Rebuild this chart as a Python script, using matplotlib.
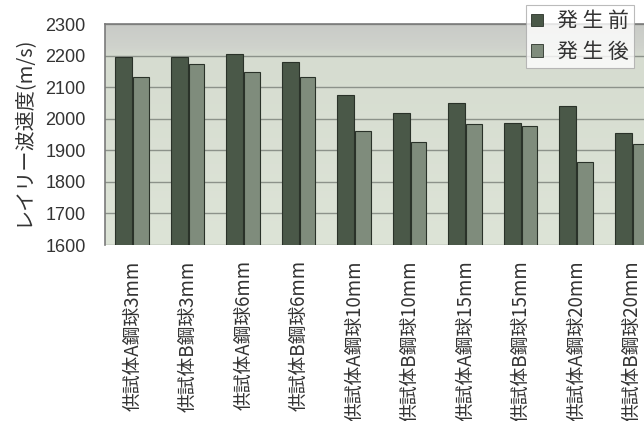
import numpy as np
import matplotlib
matplotlib.use("Agg")
import matplotlib.pyplot as plt
from matplotlib.patches import Patch
from matplotlib.colors import LinearSegmentedColormap

plt.rcParams["font.family"] = ["Noto Sans CJK JP", "DejaVu Sans"]

# =====================
# データ
# =====================
categories = [
    "供試体A鋼球3mm", "供試体B鋼球3mm", "供試体A鋼球6mm", "供試体B鋼球6mm",
    "供試体A鋼球10mm", "供試体B鋼球10mm", "供試体A鋼球15mm", "供試体B鋼球15mm",
    "供試体A鋼球20mm", "供試体B鋼球20mm",
]
before = [2196, 2196, 2205, 2181, 2075, 2018, 2051, 1987, 2040, 1954]
after = [2133, 2172, 2149, 2131, 1961, 1925, 1982, 1977, 1863, 1920]
yticks = [1600, 1700, 1800, 1900, 2000, 2100, 2200, 2300]
series_names = ["発生前", "発生後"]

c_before = "#4a5848"
c_after = "#7f8c7c"
txt = "#333333"

fig = plt.figure(figsize=(6.44, 4.21), dpi=100)
# 右端は元画像で切れているので軸を図の外まではみ出させる
ax = fig.add_axes([105 / 644, 1 - 245 / 421, 555 / 644, 221 / 421])

# 背景グラデーション（上部がグレー、下は薄い緑）
grad = np.linspace(0, 1, 256).reshape(-1, 1)
cmap = LinearSegmentedColormap.from_list(
    "bg", [(0.0, "#dde4d7"), (0.85, "#d6dcd0"), (0.9, "#cfd2cc"), (1.0, "#c9cbc7")])
ax.imshow(grad, cmap=cmap, aspect="auto", extent=[0, 1, 0, 1],
          transform=ax.transAxes, origin="lower", zorder=0)

x = np.arange(len(categories))
ax.bar(x - 0.16, before, width=0.31, color=c_before,
       edgecolor="#2a3229", linewidth=0.8, zorder=3)
ax.bar(x + 0.145, after, width=0.28, color=c_after,
       edgecolor="#2a3229", linewidth=0.8, zorder=3)

ax.set_xlim(-0.5, len(categories) - 0.5)
ax.set_ylim(1600, 2300)
ax.set_yticks(yticks)
ax.set_yticklabels([str(v) for v in yticks], fontsize=13, color=txt,
                   family=["Liberation Sans", "DejaVu Sans"])
ax.yaxis.grid(True, color="#8c928a", linewidth=1.0, zorder=1)
ax.set_axisbelow(True)
ax.tick_params(axis="y", length=0, pad=14)
ax.tick_params(axis="x", length=0, pad=11)
ax.set_xticks(x)
ax.set_xticklabels(categories, rotation=90, fontsize=13.5, color=txt, va="top")

for s in ["left", "top"]:
    ax.spines[s].set_color("#7a7a7a")
    ax.spines[s].set_linewidth(1.2)
for s in ["right", "bottom"]:
    ax.spines[s].set_visible(False)

fig.text(23 / 644, 1 - 131 / 421, "レイリー波速度(m/s)", rotation=90,
         fontsize=14.5, color=txt, ha="center", va="center")

handles = [Patch(facecolor=c_before, edgecolor="#2a3229", linewidth=0.6),
           Patch(facecolor=c_after, edgecolor="#2a3229", linewidth=0.6)]
leg = fig.legend(handles, [" ".join(n) for n in series_names],
                 loc="upper left", bbox_to_anchor=(526 / 644, 1 - 5 / 421),
                 fontsize=15, frameon=True, fancybox=False,
                 handlelength=0.55, handleheight=0.55, handletextpad=0.7,
                 borderpad=0.25, labelspacing=0.42, borderaxespad=0)
leg.get_frame().set_edgecolor("#aaaaaa")
leg.get_frame().set_linewidth(0.8)
for t in leg.get_texts():
    t.set_color(txt)

fig.savefig("out.png", dpi=100)
